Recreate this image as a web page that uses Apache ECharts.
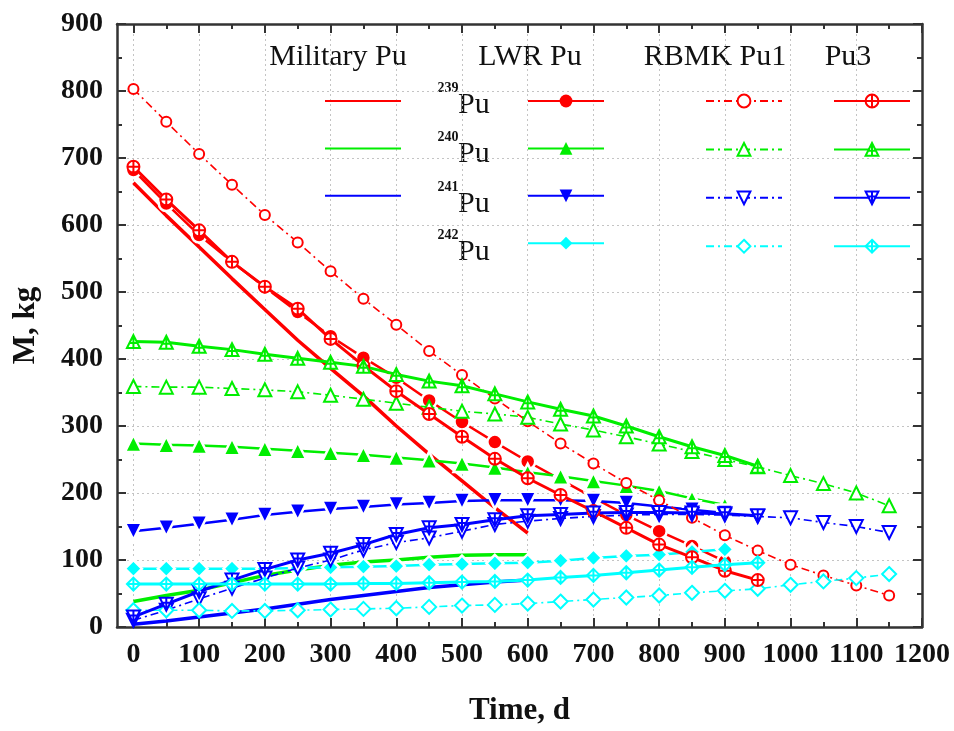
<!DOCTYPE html>
<html>
<head>
<meta charset="utf-8">
<script src="https://cdn.jsdelivr.net/npm/echarts@6/dist/echarts.min.js"></script>
<style>
  html, body { margin: 0; padding: 0; background: #fff; }
  #chart { width: 954px; height: 731px; }
</style>
</head>
<body>
<div id="chart"></div>
<script>
// Time points (days) for each fuel type
const daysMil  = [0, 50, 100, 150, 200, 250, 300, 350, 400, 450, 500, 550, 600];
const daysLWR  = [0, 50, 100, 150, 200, 250, 300, 350, 400, 450, 500, 550, 600, 650, 700, 750, 800, 850, 900];
const daysRBMK = [0, 50, 100, 150, 200, 250, 300, 350, 400, 450, 500, 550, 600, 650, 700, 750, 800, 850, 900, 950, 1000, 1050, 1100, 1150];
const daysPu3  = [0, 50, 100, 150, 200, 250, 300, 350, 400, 450, 500, 550, 600, 650, 700, 750, 800, 850, 900, 950];

// Plutonium isotope mass, kg
const mil239 = [663, 614, 567, 520, 474, 428, 386, 345, 300, 258, 218, 178, 140];
const mil240 = [38, 47, 55, 66, 77, 85, 92, 97, 100, 104, 107, 108, 108];
const mil241 = [4, 9, 15, 21, 27, 34, 41, 47, 53, 59, 63, 67, 70];

const lwr239 = [682, 632, 585, 545, 507, 470, 434, 402, 372, 338, 306, 276, 247, 220, 193, 167, 143, 121, 98];
const lwr240 = [274, 272, 271, 269, 266, 263, 260, 257, 253, 249, 244, 238, 231, 225, 218, 211, 203, 192, 182];
const lwr241 = [143, 148, 154, 160, 167, 172, 176, 179, 183, 185, 188, 189, 189, 189, 188, 185, 180, 175, 170];
const lwr242 = [87, 87, 87, 87, 87, 88, 89, 90, 91, 93, 94, 95, 96, 99, 103, 106, 108, 112, 116];

const rbmk239 = [803, 754, 706, 660, 615, 574, 531, 490, 451, 412, 376, 341, 307, 274, 244, 215, 189, 163, 137, 114, 93, 77, 62, 47];
const rbmk240 = [359, 358, 358, 356, 354, 351, 346, 340, 334, 328, 322, 318, 313, 303, 294, 284, 273, 262, 250, 239, 226, 214, 200, 181];
const rbmk241 = [10, 25, 42, 58, 73, 88, 100, 115, 126, 133, 143, 153, 158, 162, 165, 167, 168, 168, 167, 165, 163, 156, 150, 141];
const rbmk242 = [25, 25, 25, 24, 24, 25, 26, 27, 28, 30, 32, 33, 35, 38, 41, 44, 47, 51, 54, 57, 63, 68, 73, 79];

const pu3_239 = [687, 638, 592, 545, 508, 475, 430, 390, 352, 318, 284, 251, 222, 197, 173, 148, 123, 104, 84, 70];
const pu3_240 = [426, 425, 419, 414, 407, 401, 395, 389, 377, 367, 360, 348, 336, 325, 315, 300, 284, 269, 256, 240];
const pu3_241 = [15, 34, 53, 70, 86, 100, 110, 123, 138, 148, 153, 160, 166, 168, 170, 171, 171, 170, 169, 166];
const pu3_242 = [64, 64, 64, 64, 64, 64, 64, 65, 65, 66, 67, 68, 70, 74, 77, 81, 85, 89, 93, 96];

// Axis ticks
const xMajor = [0, 100, 200, 300, 400, 500, 600, 700, 800, 900, 1000, 1100, 1200];
const xMinor = [50, 150, 250, 350, 450, 550, 650, 750, 850, 950, 1050, 1150];

// Legend layout text
const groupTitles = ['Military Pu', 'LWR Pu', 'RBMK Pu1', 'Pu3'];
const isotopes = ['239', '240', '241', '242'];

const RED = '#ff0000', GREEN = '#00ee00', BLUE = '#0000ff', CYAN = '#00ffff';
const SERIF = '"Liberation Serif", "Times New Roman", serif';

// Crossed marker shapes for Pu3
const crossCircle = 'path://M0,-10A10,10,0,1,1,0,10A10,10,0,1,1,0,-10ZM0,-10L0,10M-10,0L10,0';
const crossTri = 'path://M0,-10L10,8L-10,8ZM0,-10L0,8M-6,1L6,1';
const crossTriDown = 'path://M-10,-8L10,-8L0,10ZM0,-8L0,10M-6,-1L6,-1';
const crossDiamond = 'path://M0,-11L8,0L0,11L-8,0ZM0,-11L0,11M-8,0L8,0';

function pairs(days, vals) { return days.map((d, i) => [d, vals[i]]); }

function milSeries(name, days, vals, color) {
  return {
    name, type: 'line', data: pairs(days, vals),
    symbol: 'circle', showSymbol: false, symbolSize: 0,
    lineStyle: { color, width: 3.5 }, itemStyle: { color },
    z: 3, animation: false
  };
}
function lwrSeries(name, days, vals, color, symbol, rot, size) {
  return {
    name, type: 'line', data: pairs(days, vals),
    symbol, symbolRotate: rot, symbolSize: size,
    lineStyle: { color, width: 2.5 },
    itemStyle: { color, borderColor: '#fff', borderWidth: 2.5 },
    z: 4, animation: false
  };
}
function rbmkSeries(name, days, vals, color, symbol, rot, size) {
  return {
    name, type: 'line', data: pairs(days, vals),
    symbol, symbolRotate: rot, symbolSize: size,
    lineStyle: { color, width: 1.6, type: [8, 4, 2, 4] },
    itemStyle: { color, borderColor: color, borderWidth: 1.5 },
    z: 5, animation: false
  };
}
function pu3Series(name, days, vals, color, symbol, size) {
  return {
    name, type: 'line', data: pairs(days, vals),
    symbol, symbolSize: size,
    lineStyle: { color, width: 3 },
    itemStyle: { color: '#fff', borderColor: color, borderWidth: 2 },
    z: 6, animation: false
  };
}

const series = [
  milSeries('Military 239', daysMil, mil239, RED),
  milSeries('Military 240', daysMil, mil240, GREEN),
  milSeries('Military 241', daysMil, mil241, BLUE),

  lwrSeries('LWR 239', daysLWR, lwr239, RED, 'circle', 0, 15),
  lwrSeries('LWR 240', daysLWR, lwr240, GREEN, 'triangle', 0, 17),
  lwrSeries('LWR 241', daysLWR, lwr241, BLUE, 'triangle', 180, 17),
  lwrSeries('LWR 242', daysLWR, lwr242, CYAN, 'diamond', 0, 17),

  rbmkSeries('RBMK 239', daysRBMK, rbmk239, RED, 'emptyCircle', 0, 10),
  rbmkSeries('RBMK 240', daysRBMK, rbmk240, GREEN, 'emptyTriangle', 0, 13),
  rbmkSeries('RBMK 241', daysRBMK, rbmk241, BLUE, 'emptyTriangle', 180, 13),
  rbmkSeries('RBMK 242', daysRBMK, rbmk242, CYAN, 'emptyDiamond', 0, 14),

  pu3Series('Pu3 239', daysPu3, pu3_239, RED, crossCircle, 12),
  pu3Series('Pu3 240', daysPu3, pu3_240, GREEN, crossTri, 13),
  pu3Series('Pu3 241', daysPu3, pu3_241, BLUE, crossTriDown, 13),
  pu3Series('Pu3 242', daysPu3, pu3_242, CYAN, crossDiamond, 13)
];

function legendBlock(left, names, itemStyle) {
  return {
    orient: 'vertical', left, top: 93, padding: 0,
    itemWidth: 76, itemHeight: 16, itemGap: 33,
    selectedMode: false,
    formatter: () => '',
    textStyle: { fontSize: 8 },
    data: names.map(n => itemStyle ? { name: n, itemStyle } : { name: n })
  };
}

const axisLineStyle = { color: '#333', width: 2.5 };
const tickStyle = { color: '#333', width: 2 };
const gridLineStyle = { color: '#c4c4c4', width: 1, type: [2, 3] };
const tickFont = { fontFamily: SERIF, fontWeight: 'bold', fontSize: 28, color: '#111' };
const titleFont = { fontFamily: SERIF, fontWeight: 'bold', fontSize: 31, color: '#111' };

function xAxisDef(position, values, len, withLabels, withGrid, withLine) {
  return {
    type: 'value', position, min: -25, max: 1200,
    axisLine: { show: withLine, onZero: false, lineStyle: axisLineStyle },
    axisTick: { show: true, inside: true, length: len, customValues: values, lineStyle: tickStyle },
    axisLabel: withLabels
      ? Object.assign({ show: true, customValues: values, margin: 14, formatter: v => String(v) }, tickFont)
      : { show: false },
    splitLine: { show: withGrid, lineStyle: gridLineStyle }
  };
}

const textEls = [];
const headerX = [338, 530, 715, 848];
groupTitles.forEach((t, i) => {
  textEls.push({
    type: 'text', x: headerX[i], y: 57,
    style: { text: t, font: '30px ' + SERIF, fill: '#111', textAlign: 'center', textVerticalAlign: 'middle' }
  });
});
const rowY = [101, 150, 200, 248];
isotopes.forEach((iso, i) => {
  textEls.push({
    type: 'text', x: 448, y: rowY[i] - 13,
    style: { text: iso, font: 'bold 14px ' + SERIF, fill: '#111', textAlign: 'center', textVerticalAlign: 'middle' }
  });
  textEls.push({
    type: 'text', x: 458, y: rowY[i] + 4,
    style: { text: 'Pu', font: '30px ' + SERIF, fill: '#111', textAlign: 'left', textVerticalAlign: 'middle' }
  });
});

const option = {
  backgroundColor: '#fff',
  animation: false,
  grid: { left: 117, right: 32, top: 24, bottom: 101, containLabel: false },
  xAxis: [
    Object.assign(xAxisDef('bottom', xMajor, 9, true, true, true), {
      name: 'Time, d', nameLocation: 'middle', nameGap: 68, nameTextStyle: titleFont
    }),
    xAxisDef('bottom', xMinor, 5, false, false, false),
    xAxisDef('top', xMajor, 9, false, false, true),
    xAxisDef('top', xMinor, 5, false, false, false)
  ],
  yAxis: [
    {
      type: 'value', position: 'left', min: 0, max: 900, interval: 100,
      name: 'M, kg', nameLocation: 'middle', nameGap: 76, nameTextStyle: titleFont,
      axisLine: { show: true, onZero: false, lineStyle: axisLineStyle },
      axisTick: { show: true, inside: true, length: 9, lineStyle: tickStyle },
      minorTick: { show: true, splitNumber: 2, length: 5, lineStyle: tickStyle },
      axisLabel: Object.assign({ margin: 14 }, tickFont),
      splitLine: { show: true, lineStyle: gridLineStyle }
    },
    {
      type: 'value', position: 'right', min: 0, max: 900, interval: 100,
      axisLine: { show: true, onZero: false, lineStyle: axisLineStyle },
      axisTick: { show: true, inside: true, length: 9, lineStyle: tickStyle },
      minorTick: { show: true, splitNumber: 2, length: 5, lineStyle: tickStyle },
      axisLabel: { show: false },
      splitLine: { show: false }
    }
  ],
  legend: [
    legendBlock(324, ['Military 239', 'Military 240', 'Military 241'], { opacity: 0 }),
    legendBlock(527, ['LWR 239', 'LWR 240', 'LWR 241', 'LWR 242'], { borderWidth: 0 }),
    legendBlock(705, ['RBMK 239', 'RBMK 240', 'RBMK 241', 'RBMK 242'], null),
    legendBlock(833, ['Pu3 239', 'Pu3 240', 'Pu3 241', 'Pu3 242'], null)
  ],
  graphic: textEls,
  series
};

const chart = echarts.init(document.getElementById('chart'), null, { renderer: 'canvas' });
chart.setOption(option);
</script>
</body>
</html>
